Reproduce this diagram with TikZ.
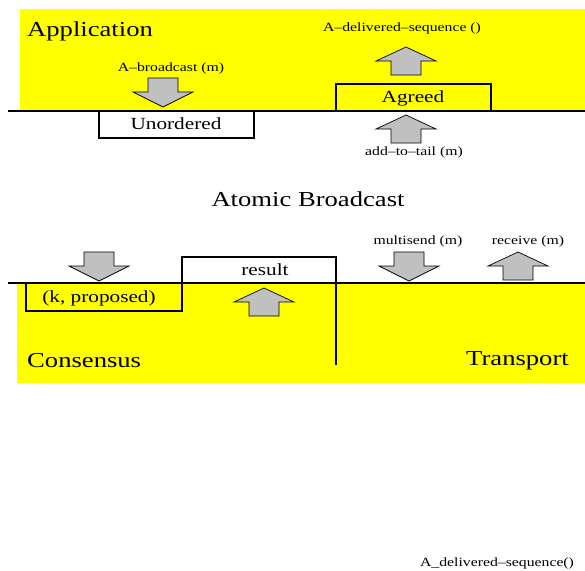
\documentclass[tikz,border=0pt]{standalone}
\usepackage{fontspec}
\setmainfont{Liberation Serif}[FakeStretch=1.25]
\definecolor{ylw}{RGB}{255,255,0}
\definecolor{agray}{RGB}{192,192,192}
\tikzset{
  big/.style={inner sep=0pt, font=\fontsize{21.3}{23}\selectfont},
  mid/.style={inner sep=0pt, font=\fontsize{17}{19}\selectfont},
  small/.style={inner sep=0pt, font=\fontsize{12.6}{14}\selectfont},
  layerbox/.style={draw=black, line width=1.8pt, fill=white},
  yelbox/.style={draw=black, line width=1.8pt, fill=ylw},
  baseline/.style={line width=2.8pt},
  fatarrow/.style={draw=black, line width=0.7pt, fill=agray},
}
\newcommand{\downarr}[2]{% centre x, top y
  \draw[fatarrow] (#1-15,#2) -- (#1+15,#2) -- (#1+15,#2+14) -- (#1+30,#2+14) -- (#1,#2+29) -- (#1-30,#2+14) -- (#1-15,#2+14) -- cycle;}
\newcommand{\uparr}[2]{% centre x, tip y
  \draw[fatarrow] (#1,#2) -- (#1+30,#2+14) -- (#1+15,#2+14) -- (#1+15,#2+28) -- (#1-15,#2+28) -- (#1-15,#2+14) -- (#1-30,#2+14) -- cycle;}
\begin{document}
\begin{tikzpicture}[x=1pt,y=-1pt]
\useasboundingbox (0,0) rectangle (585,570);
% yellow areas
\fill[ylw] (20,9) rectangle (585,111);
\fill[ylw] (17,283) rectangle (585,383);
% top layer
\node[big, anchor=west] (app) at (27,31) {Application};
\draw[yelbox] (336,84) rectangle (491,111);
\node[mid] (agreed) at (413,98) {Agreed};
\draw[layerbox] (99,111) rectangle (254,138);
\node[mid] (unord) at (176,124) {Unordered};
\draw[baseline] (8,111) -- (585,111);
\node[small] (abc) at (171,68) {A–broadcast (m)};
\downarr{163}{78}
\node[small] (ads) at (402,28) {A–delivered–sequence ()};
\uparr{406}{47}
\uparr{406}{115}
\node[small] (att) at (414,152) {add–to–tail (m)};
\node[big] (ab) at (308,199) {Atomic Broadcast};
% bottom layer
\draw[layerbox] (182,257) rectangle (336,283);
\node[mid] (res) at (265,270) {result};
\draw[yelbox] (26,283) rectangle (182,311);
\node[mid] (kp) at (99,298) {(k, proposed)};
\draw[baseline] (8,283) -- (585,283);
\draw[line width=2.2pt] (336,257) -- (336,365);
\downarr{99}{252}
\uparr{264}{288}
\node[small] (ms) at (418,241) {multisend (m)};
\downarr{409}{252}
\node[small] (rcv) at (528,241) {receive (m)};
\uparr{518}{252}
\node[big, anchor=west] (cons) at (27,361) {Consensus};
\node[big, anchor=east] (trans) at (569,361) {Transport};
\node[small] (ads2) at (497,563) {A\_delivered–sequence()};
\end{tikzpicture}
\end{document}
